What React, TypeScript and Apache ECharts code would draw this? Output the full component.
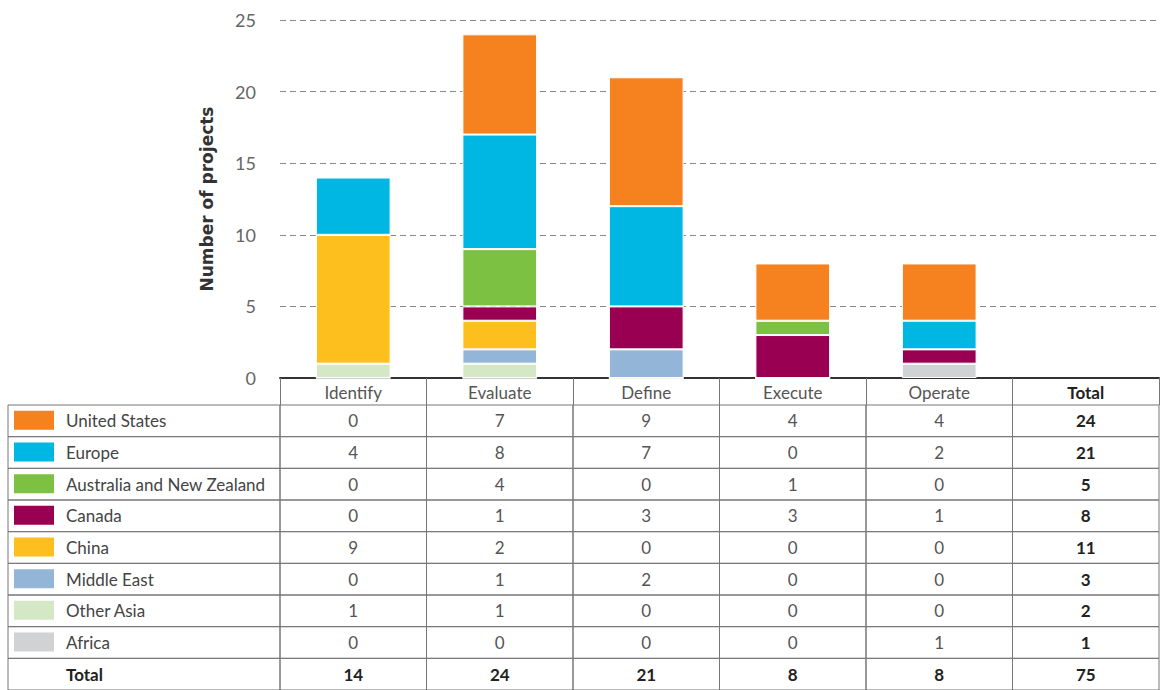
import React, { useEffect, useRef } from "react";
import * as echarts from "echarts";

const stages = ["Identify", "Evaluate", "Define", "Execute", "Operate"];
const columns = [...stages, "Total"];
const regions = [
  "United States",
  "Europe",
  "Australia and New Zealand",
  "Canada",
  "China",
  "Middle East",
  "Other Asia",
  "Africa",
];
const colors = ["#F5821F", "#00B7E3", "#7CC142", "#990052", "#FDBF1E", "#93B5D7", "#D5E8C5", "#D0D2D3"];

const unitedStates = [0, 7, 9, 4, 4];
const europe = [4, 8, 7, 0, 2];
const australiaNZ = [0, 4, 0, 1, 0];
const canada = [0, 1, 3, 3, 1];
const china = [9, 2, 0, 0, 0];
const middleEast = [0, 1, 2, 0, 0];
const otherAsia = [1, 1, 0, 0, 0];
const africa = [0, 0, 0, 0, 1];
const seriesValues = [unitedStates, europe, australiaNZ, canada, china, middleEast, otherAsia, africa];

const yTicks = { min: 0, max: 25, interval: 5 };

const rowLabels = [...regions, "Total"];
const FONT = "Lato, 'Open Sans', sans-serif";

// table cells: [col, row, text, bold]
const cells: [number, number, string, boolean][] = [];
seriesValues.forEach((vals, r) => {
  vals.forEach((v, c) => cells.push([c, r, String(v), false]));
  cells.push([stages.length, r, String(vals.reduce((a, b) => a + b, 0)), true]);
});
stages.forEach((_, c) => {
  cells.push([c, regions.length, String(seriesValues.reduce((a, s) => a + s[c], 0)), true]);
});
cells.push([
  stages.length,
  regions.length,
  String(seriesValues.reduce((a, s) => a + s.reduce((x, y) => x + y, 0), 0)),
  true,
]);

const labelCells: [number, number][] = rowLabels.map((_, r) => [0, r]);

export default function App() {
  const ref = useRef<HTMLDivElement>(null);
  useEffect(() => {
    if (!ref.current) return;
    const chart = echarts.init(ref.current, undefined, { renderer: "svg" });
    const barSeries = regions
      .map((name, i) => ({
        name,
        type: "bar",
        stack: "total",
        xAxisIndex: 0,
        yAxisIndex: 0,
        barWidth: "51%",
        data: seriesValues[i],
        itemStyle: { color: colors[i], borderColor: "#ffffff", borderWidth: 1 },
      }))
      .reverse();

    chart.setOption({
      animation: false,
      grid: [
        { left: 280, right: 3, top: 20, bottom: 312 },
        { left: 280, right: 3, top: 405, bottom: 0 },
        { left: 8, width: 272, top: 405, bottom: 0 },
      ],
      xAxis: [
        {
          type: "category",
          gridIndex: 0,
          data: columns,
          axisLine: { show: true, lineStyle: { color: "#333", width: 2 } },
          axisTick: { show: true, length: 27, lineStyle: { color: "#777", width: 1 } },
          axisLabel: {
            margin: 6,
            formatter: (v: string) => (v === "Total" ? `{b|${v}}` : `{n|${v}}`),
            rich: {
              n: { fontFamily: FONT, fontSize: 17, color: "#555" },
              b: { fontFamily: FONT, fontSize: 17, color: "#222", fontWeight: "bold" },
            },
          },
        },
        { type: "category", gridIndex: 1, data: columns, show: false },
        { type: "category", gridIndex: 2, data: ["label"], show: false },
      ],
      yAxis: [
        {
          type: "value",
          gridIndex: 0,
          min: yTicks.min,
          max: yTicks.max,
          interval: yTicks.interval,
          name: "Number of projects",
          nameLocation: "middle",
          nameGap: 65,
          nameTextStyle: {
            fontFamily: "'DejaVu Sans', sans-serif",
            fontSize: 17,
            fontWeight: "bold",
            color: "#333",
          },
          axisLine: { show: false },
          axisTick: { show: false },
          axisLabel: { margin: 24, fontFamily: FONT, fontSize: 18, color: "#666" },
          splitLine: { lineStyle: { color: "#888", type: [6, 4], width: 1 } },
        },
        { type: "category", gridIndex: 1, data: rowLabels, inverse: true, show: false },
        { type: "category", gridIndex: 2, data: rowLabels, inverse: true, show: false },
      ],
      series: [
        ...barSeries,
        {
          type: "custom",
          xAxisIndex: 1,
          yAxisIndex: 1,
          data: cells.map((c) => [c[0], c[1]]),
          renderItem: (params: any, api: any) => {
            const cell = cells[params.dataIndex];
            const p = api.coord([cell[0], cell[1]]);
            const s = api.size([1, 1]);
            return {
              type: "group",
              children: [
                {
                  type: "rect",
                  shape: { x: p[0] - s[0] / 2, y: p[1] - s[1] / 2, width: s[0], height: s[1] },
                  style: { fill: "none", stroke: "#777", lineWidth: 1 },
                },
                {
                  type: "text",
                  x: p[0],
                  y: p[1],
                  style: {
                    text: cell[2],
                    align: "center",
                    verticalAlign: "middle",
                    fontFamily: FONT,
                    fontSize: 17,
                    fontWeight: cell[3] ? "bold" : "normal",
                    fill: cell[3] ? "#222" : "#555",
                  },
                },
              ],
            };
          },
        },
        {
          type: "custom",
          xAxisIndex: 2,
          yAxisIndex: 2,
          data: labelCells,
          renderItem: (params: any, api: any) => {
            const r = labelCells[params.dataIndex][1];
            const p = api.coord([0, r]);
            const s = api.size([1, 1]);
            const left = p[0] - s[0] / 2;
            const isTotal = r >= regions.length;
            const children: any[] = [
              {
                type: "rect",
                shape: { x: left, y: p[1] - s[1] / 2, width: s[0], height: s[1] },
                style: { fill: "none", stroke: "#777", lineWidth: 1 },
              },
              {
                type: "text",
                x: left + 58,
                y: p[1],
                style: {
                  text: rowLabels[r],
                  align: "left",
                  verticalAlign: "middle",
                  fontFamily: FONT,
                  fontSize: 17,
                  fontWeight: isTotal ? "bold" : "normal",
                  fill: isTotal ? "#222" : "#444",
                },
              },
            ];
            if (!isTotal) {
              children.push({
                type: "rect",
                shape: { x: left + 6, y: p[1] - 10, width: 40, height: 19 },
                style: { fill: colors[r] },
              });
            }
            return { type: "group", children };
          },
        },
      ],
    });
    return () => chart.dispose();
  }, []);
  return (
    <div
      ref={ref}
      style={{ position: "fixed", left: 0, top: 0, width: 1162, height: 690, background: "#fff" }}
    />
  );
}
